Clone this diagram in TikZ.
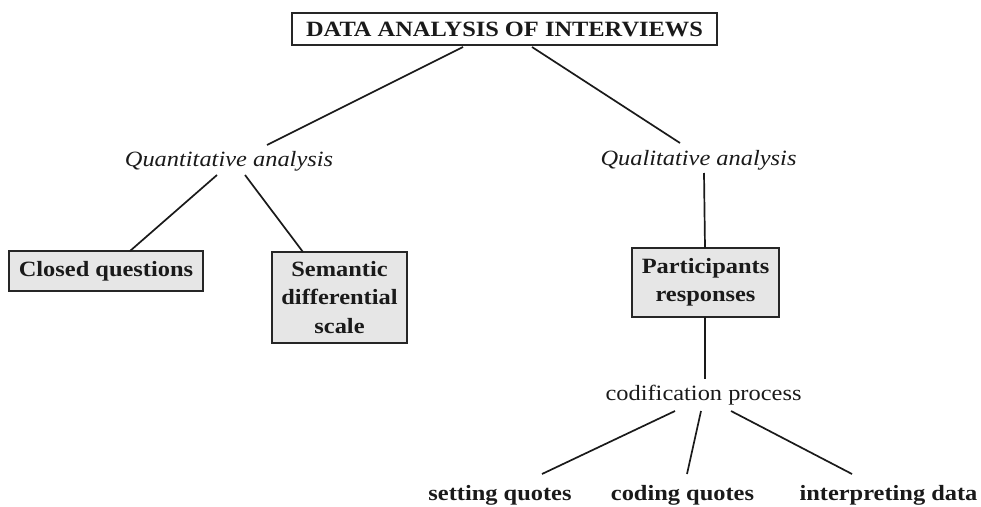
\documentclass[tikz,border=0pt]{standalone}
\usepackage{fontspec}
\setmainfont{Liberation Serif}[FakeStretch=1.12]
\definecolor{boxfill}{HTML}{E6E6E6}
\definecolor{ink}{HTML}{1A1A1A}
\definecolor{edge}{HTML}{262626}
\tikzset{
  lbl/.style={inner sep=0pt, text=ink, font=\fontsize{21.8}{28}\selectfont},
  boxed/.style={draw=edge, line width=2pt, fill=boxfill, inner sep=0pt, text=ink,
     align=center, font=\fontsize{21.8}{28.5}\selectfont\bfseries},
  conn/.style={draw=ink, line width=1.7pt}
}
\begin{document}
\begin{tikzpicture}[x=1pt,y=-1pt]
\useasboundingbox (0,0) rectangle (981,506);
% title
\node[draw=edge, line width=2pt, fill=white, inner sep=0pt, minimum width=425pt, minimum height=32pt,
  text=ink, font=\fontsize{21.8}{28}\selectfont\bfseries] (title) at (504.5,29) {DATA ANALYSIS OF INTERVIEWS};
% level 2 labels
\node[lbl, font=\fontsize{21.8}{28}\selectfont\itshape, anchor=base] (quant) at (229,166) {Quantitative analysis};
\node[lbl, font=\fontsize{21.8}{28}\selectfont\itshape, anchor=base] (qual) at (698.5,165) {Qualitative analysis};
% boxes
\node[boxed, minimum width=194pt, minimum height=40pt] (closed) at (106,271) {Closed questions};
\node[boxed, minimum width=135pt, minimum height=91pt] (sem) at (339.5,297.5) {\raisebox{-3pt}{Semantic}\\\raisebox{-3pt}{differential}\\\raisebox{-3pt}{scale}};
\node[boxed, minimum width=147pt, minimum height=69pt] (part) at (705.5,282.5) {\raisebox{-3pt}{Participants}\\\raisebox{-3pt}{responses}};
% codification
\node[lbl, anchor=base] (codif) at (703.5,400) {codification process};
\node[lbl, font=\fontsize{21.8}{28}\selectfont\bfseries, anchor=base] (set) at (500,500) {setting quotes};
\node[lbl, font=\fontsize{21.8}{28}\selectfont\bfseries, anchor=base] (cod) at (682.5,500) {coding quotes};
\node[lbl, font=\fontsize{21.8}{28}\selectfont\bfseries, anchor=base] (int) at (888.5,500) {interpreting data};
% connector end points
\coordinate (tL) at (463,47);
\coordinate (tR) at (532,47);
\coordinate (qnT) at (267,145);
\coordinate (qlT) at (680,143);
\coordinate (qnL) at (217,175);
\coordinate (qnR) at (245,175);
\coordinate (clT) at (130,251);
\coordinate (seT) at (303,252);
\coordinate (qlB) at (704,173);
\coordinate (paT) at (705,248);
\coordinate (paB) at (705,317);
\coordinate (coT) at (705,379);
\coordinate (c1) at (675,411);
\coordinate (c2) at (701,411);
\coordinate (c3) at (731,411);
\coordinate (s1) at (542,474);
\coordinate (s2) at (687,474);
\coordinate (s3) at (852,474);
% connectors
\draw[conn] (tL) -- (qnT);
\draw[conn] (tR) -- (qlT);
\draw[conn] (qnL) -- (clT);
\draw[conn] (qnR) -- (seT);
\draw[conn] (qlB) -- (paT);
\draw[conn] (paB) -- (coT);
\draw[conn] (c1) -- (s1);
\draw[conn] (c2) -- (s2);
\draw[conn] (c3) -- (s3);
\end{tikzpicture}
\end{document}
